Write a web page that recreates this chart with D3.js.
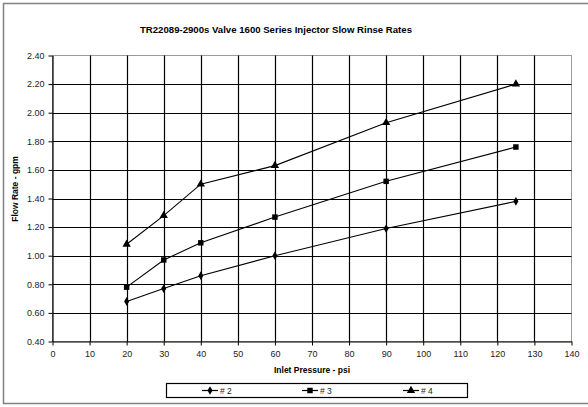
<!DOCTYPE html>
<html>
<head>
<meta charset="utf-8">
<script src="https://cdn.jsdelivr.net/npm/d3@7"></script>
<style>
  html, body { margin: 0; padding: 0; background: #fff; }
  svg { display: block; font-family: Arial, "Liberation Sans", sans-serif; }
</style>
</head>
<body>
<svg id="chart" width="588" height="407"></svg>
<script>
// Inlet pressure (psi) at each test point
const pressures = [20, 30, 40, 60, 90, 125];
// Flow rate (gpm) for each injector
const series2 = [0.68, 0.77, 0.86, 1.00, 1.19, 1.38];
const series3 = [0.78, 0.97, 1.09, 1.27, 1.52, 1.76];
const series4 = [1.08, 1.28, 1.50, 1.63, 1.93, 2.20];
const seriesNames = ["# 2", "# 3", "# 4"];
const xTicks = [0, 10, 20, 30, 40, 50, 60, 70, 80, 90, 100, 110, 120, 130, 140];
const yTicks = [0.40, 0.60, 0.80, 1.00, 1.20, 1.40, 1.60, 1.80, 2.00, 2.20, 2.40];

const titleText = "TR22089-2900s Valve 1600 Series Injector Slow Rinse Rates";
const xTitle = "Inlet Pressure - psi";
const yTitle = "Flow Rate - gpm";

const svg = d3.select("#chart");
const plot = { left: 52.5, right: 571.5, top: 55.5, bottom: 341.5 };

// outer chart frame
svg.append("rect")
  .attr("x", 3.5).attr("y", 3.5).attr("width", 590).attr("height", 400)
  .attr("fill", "none").attr("stroke", "#808080").attr("stroke-width", 1.5);

const x = d3.scaleLinear().domain([0, 140]).range([plot.left, plot.right]);
const y = d3.scaleLinear().domain([0.4, 2.4]).range([plot.bottom, plot.top]);

// plot area border
svg.append("rect")
  .attr("x", plot.left).attr("y", plot.top)
  .attr("width", plot.right - plot.left).attr("height", plot.bottom - plot.top)
  .attr("fill", "#fff").attr("stroke", "#9a9a9a").attr("stroke-width", 1);

// gridlines
const grid = svg.append("g");
grid.selectAll("line.h").data(yTicks.slice(1, -1)).enter().append("line")
  .attr("x1", plot.left).attr("x2", plot.right)
  .attr("y1", d => Math.round(y(d)) + 0.5).attr("y2", d => Math.round(y(d)) + 0.5)
  .attr("stroke", "#000").attr("stroke-width", 1.2);
grid.selectAll("line.v").data(xTicks.slice(1, -1)).enter().append("line")
  .attr("y1", plot.top).attr("y2", plot.bottom)
  .attr("x1", d => Math.round(x(d)) + 0.5).attr("x2", d => Math.round(x(d)) + 0.5)
  .attr("stroke", "#000").attr("stroke-width", 1.2);

// axes
const xAxis = d3.axisBottom(x).tickValues(xTicks).tickSize(4).tickSizeOuter(0).tickFormat(d3.format("d"));
const yAxis = d3.axisLeft(y).tickValues(yTicks).tickSize(4).tickSizeOuter(0).tickFormat(d3.format(".2f"));

const gx = svg.append("g").attr("transform", `translate(0,${plot.bottom})`).call(xAxis);
const gy = svg.append("g").attr("transform", `translate(${plot.left},0)`).call(yAxis);
[gx, gy].forEach(g => {
  g.select(".domain").attr("stroke", "#000").attr("stroke-width", 1.2);
  g.selectAll(".tick line").attr("stroke", "#000");
  g.selectAll("text").attr("font-size", 9).attr("fill", "#222")
    .attr("font-family", "Arial, 'Liberation Sans', sans-serif");
});
gx.selectAll("text").attr("dy", "0.9em");
gy.selectAll("text").attr("dx", "-0.1em");

// titles
svg.append("text").attr("x", 276).attr("y", 33).attr("text-anchor", "middle")
  .attr("font-size", 9.6).attr("font-weight", "bold").text(titleText);
svg.append("text").attr("x", plot.left + (plot.right - plot.left) / 2).attr("y", 373)
  .attr("text-anchor", "middle").attr("font-size", 8.5).attr("font-weight", "bold").text(xTitle);
svg.append("text").attr("transform", "translate(18,189) rotate(-90)")
  .attr("text-anchor", "middle").attr("font-size", 8.5).attr("font-weight", "bold").text(yTitle);

// markers
const symbols = [d3.symbolDiamond, d3.symbolSquare, d3.symbolTriangle];
const symSizes = [22, 30, 30];
const allSeries = [series2, series3, series4];

const line = d3.line().x((d, i) => x(pressures[i])).y(d => y(d));
allSeries.forEach((vals, si) => {
  const g = svg.append("g");
  g.append("path").datum(vals).attr("d", line)
    .attr("fill", "none").attr("stroke", "#000").attr("stroke-width", 1.1);
  g.selectAll("path.m").data(vals).enter().append("path")
    .attr("class", "m")
    .attr("transform", (d, i) => `translate(${x(pressures[i])},${y(d)})`)
    .attr("d", d3.symbol().type(symbols[si]).size(symSizes[si]))
    .attr("fill", "#000");
});

// legend
const legend = svg.append("g");
legend.append("rect").attr("x", 166.5).attr("y", 383.5).attr("width", 301).attr("height", 14)
  .attr("fill", "#fff").attr("stroke", "#000").attr("stroke-width", 1.2);
const legendX = [202, 302, 403];
seriesNames.forEach((name, i) => {
  const lx = legendX[i];
  legend.append("line").attr("x1", lx).attr("x2", lx + 16).attr("y1", 390.5).attr("y2", 390.5)
    .attr("stroke", "#000").attr("stroke-width", 1.2);
  legend.append("path").attr("transform", `translate(${lx + 8},390.5)`)
    .attr("d", d3.symbol().type(symbols[i]).size(symSizes[i])).attr("fill", "#000");
  legend.append("text").attr("x", lx + 18).attr("y", 393.5).attr("font-size", 8.5)
    .attr("fill", "#222").text(name);
});
</script>
</body>
</html>
